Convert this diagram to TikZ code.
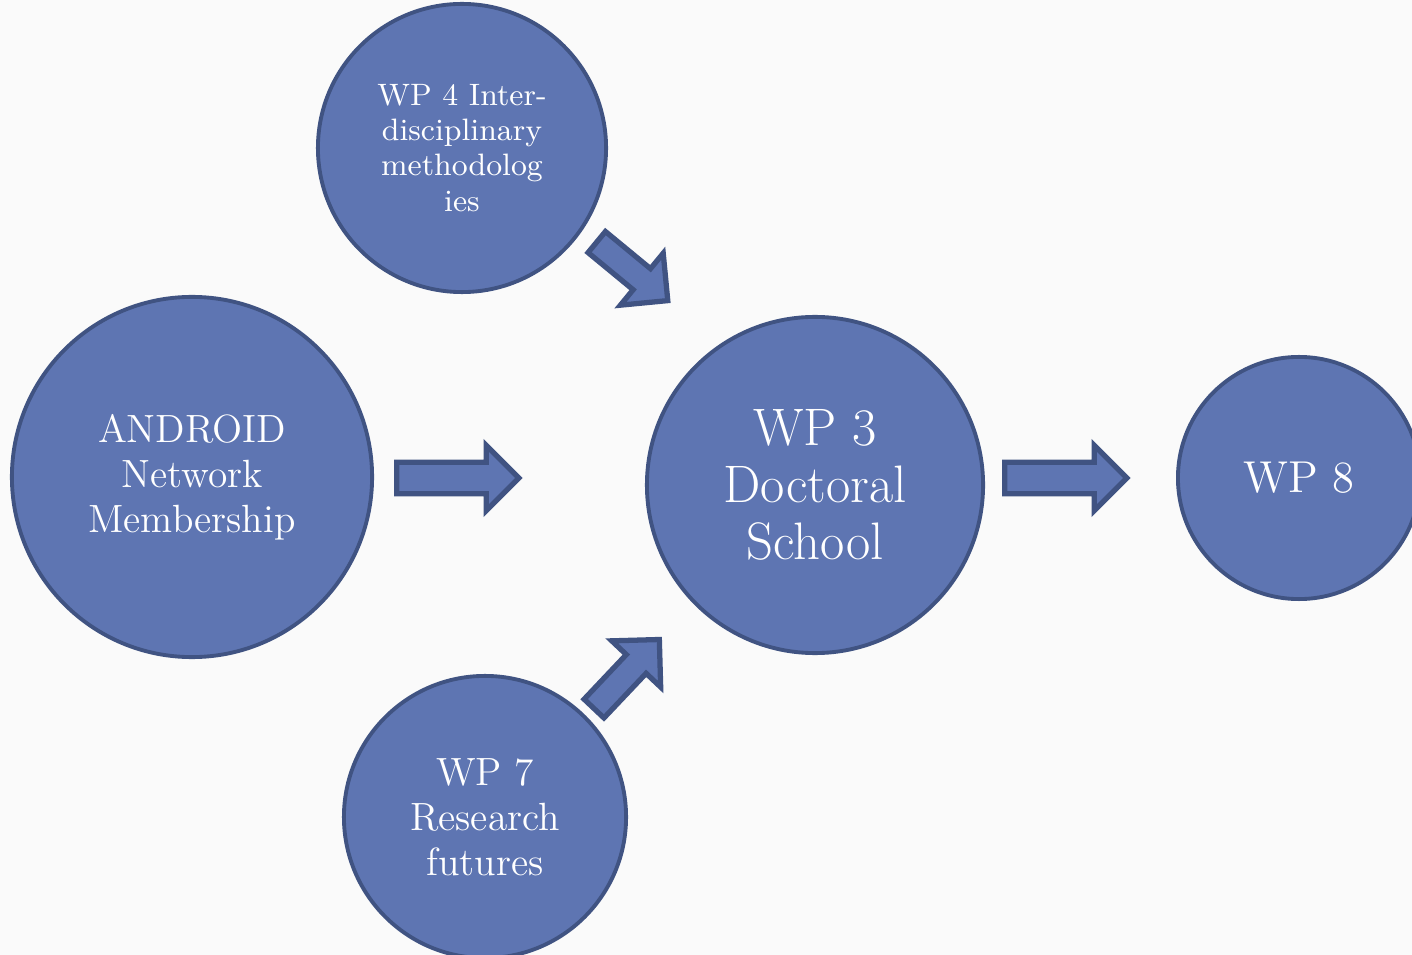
\documentclass[tikz,border=0pt]{standalone}
\usetikzlibrary{shapes.arrows}
\definecolor{wpfill}{HTML}{5E75B2}
\definecolor{wpline}{HTML}{405382}
\tikzset{
  wp/.style={circle, draw=wpline, fill=wpfill, line width=1.1pt, text=white, align=center, inner sep=0pt},
  blockarrow/.style={single arrow, draw=wpline, fill=wpfill, line width=1.5pt, inner xsep=0pt,
    inner ysep=0.13cm, single arrow head extend=0.17cm}
}
\begin{document}
\begin{tikzpicture}[x=0.01cm,y=-0.01cm]
\fill[gray!4] (0,0) rectangle (1412,955);
\useasboundingbox (0,0) rectangle (1412,955);
%\draw[step=100,gray,very thin] (0,0) grid (1412,955);
\node[wp, minimum size=2.88cm, font=\fontsize{8.8}{10}\selectfont] (wpfour) at (462,148) {WP 4 Inter-\\disciplinary\\methodolog\\ies};
\node[wp, minimum size=3.6cm, font=\fontsize{11.2}{12.8}\selectfont] (android) at (192,477) {ANDROID\\Network\\Membership};
\node[wp, minimum size=3.36cm, font=\fontsize{15}{16.3}\selectfont] (wpthree) at (815,485) {WP 3\\Doctoral\\School};
\node[wp, minimum size=2.82cm, font=\fontsize{11.2}{12.8}\selectfont] (wpseven) at (485,817) {WP 7\\Research\\futures};
\node[wp, minimum size=2.42cm, font=\fontsize{12.7}{15}\selectfont] (wpeight) at (1299,478) {WP 8};

%------------------------------------------------
\node[blockarrow, minimum height=1.22cm] (arrandroid) at (450,478) {};
\node[blockarrow, minimum height=1.22cm] (arrthree) at (1058,478) {};
\node[blockarrow, minimum height=0.92cm, inner ysep=0.11cm, single arrow head extend=0.2cm, rotate=-39.5] (arrfour) at (627,267) {};
\node[blockarrow, minimum height=0.95cm, inner ysep=0.11cm, single arrow head extend=0.2cm, rotate=46.6] (arrseven) at (622,679) {};
\end{tikzpicture}
\end{document}
